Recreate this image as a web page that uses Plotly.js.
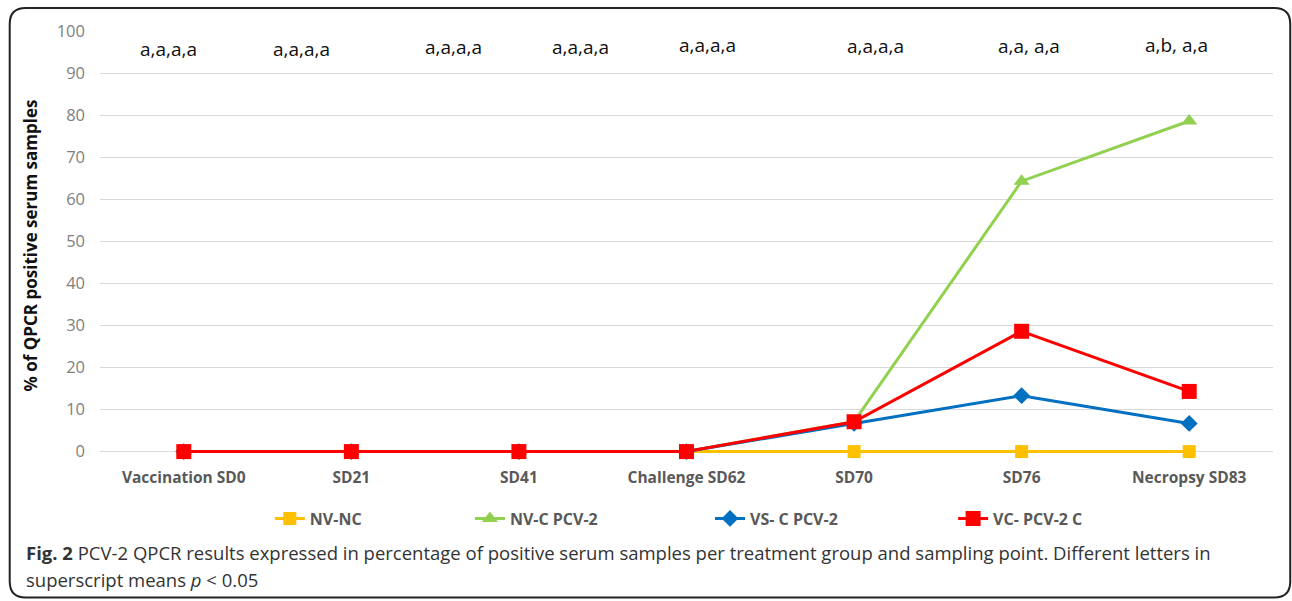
<!DOCTYPE html>
<html>
<head>
<meta charset="utf-8">
<script src="https://cdn.plot.ly/plotly-3.0.1.min.js"></script>
<style>
  html, body { margin: 0; padding: 0; background: #fff; }
  #chart { width: 1292px; height: 601px; }
</style>
</head>
<body>
<div id="chart"></div>
<script>
// Sampling points (study days)
const categories = ['Vaccination SD0', 'SD21', 'SD41', 'Challenge SD62', 'SD70', 'SD76', 'Necropsy SD83'];

// % of QPCR positive serum samples per treatment group
const nvNc    = [0, 0, 0, 0, 0, 0, 0];
const nvCPcv2 = [0, 0, 0, 0, 7.1, 64.3, 78.6];
const vsCPcv2 = [0, 0, 0, 0, 6.7, 13.3, 6.7];
const vcPcv2C = [0, 0, 0, 0, 7.1, 28.6, 14.3];

const seriesNames = ['NV-NC', 'NV-C PCV-2', 'VS- C PCV-2', 'VC- PCV-2 C'];

// Statistical letters shown above the plot
const letterLabels = ['a,a,a,a', 'a,a,a,a', 'a,a,a,a', 'a,a,a,a', 'a,a,a,a', 'a,a,a,a', 'a,a, a,a', 'a,b, a,a'];

const yTicks = [0, 10, 20, 30, 40, 50, 60, 70, 80, 90, 100];

// ---- layout geometry (pixels) ----
// y range starts slightly below 0 so the zero-level lines are not clipped
const Y_MIN = -2, Y_MAX = 100;
const W = 1292, H = 601;
const ZERO_PX = 452, TOP_PX = 31;
const PX_PER_UNIT = (ZERO_PX - TOP_PX) / Y_MAX;
const M = { l: 100.25, r: 19.25, t: TOP_PX, b: H - ZERO_PX + Y_MIN * PX_PER_UNIT };
const PW = W - M.l - M.r, PH = H - M.t - M.b;
const px = x => (x - M.l) / PW;            // pixel x -> paper x
const py = y => (H - M.b - y) / PH;        // pixel y -> paper y

const FONT = '"Open Sans", "DejaVu Sans", sans-serif';

function trace(name, y, color, symbol, size, legend) {
  return {
    type: 'scatter', mode: 'lines+markers', name: name,
    x: categories, y: y,
    line: { color: color, width: 3 },
    marker: { color: color, symbol: symbol, size: size },
    legend: legend, cliponaxis: false
  };
}

const data = [
  trace(seriesNames[0], nvNc,    '#FFC000', 'square',       13, 'legend'),
  trace(seriesNames[1], nvCPcv2, '#92D050', 'triangle-up',  14, 'legend2'),
  trace(seriesNames[2], vsCPcv2, '#0070C0', 'diamond',      13, 'legend3'),
  trace(seriesNames[3], vcPcv2C, '#FF0000', 'square',       15, 'legend4')
];

// letter annotations (pixel centres across the top band)
const letterX = [169, 302, 454, 581, 707, 875, 1029, 1176];
const letterY = [49, 49, 47, 47, 45, 46, 46, 45];
const annotations = letterLabels.map((t, i) => ({
  xref: 'paper', yref: 'paper', x: px(letterX[i]), y: py(letterY[i]),
  xanchor: 'center', yanchor: 'middle', showarrow: false,
  text: t, font: { family: FONT, size: 19, color: '#111' }
}));

// figure caption
const captionFont = { family: FONT, size: 18.5, color: '#333' };
annotations.push({
  xref: 'paper', yref: 'paper', x: px(24), y: py(553),
  xanchor: 'left', yanchor: 'middle', showarrow: false, align: 'left',
  text: '<b>Fig. 2</b> PCV-2 QPCR results expressed in percentage of positive serum samples per treatment group and sampling point. Different letters in',
  font: captionFont
});
annotations.push({
  xref: 'paper', yref: 'paper', x: px(24), y: py(580),
  xanchor: 'left', yanchor: 'middle', showarrow: false, align: 'left',
  text: 'superscript means <i>p</i> &lt; 0.05',
  font: captionFont
});

// rounded frame around the figure
function roundedRect(x0, y0, x1, y1, r) {
  const X = v => px(v), Y = v => py(v);
  return `M ${X(x0 + r)} ${Y(y0)} L ${X(x1 - r)} ${Y(y0)} Q ${X(x1)} ${Y(y0)} ${X(x1)} ${Y(y0 + r)} ` +
         `L ${X(x1)} ${Y(y1 - r)} Q ${X(x1)} ${Y(y1)} ${X(x1 - r)} ${Y(y1)} ` +
         `L ${X(x0 + r)} ${Y(y1)} Q ${X(x0)} ${Y(y1)} ${X(x0)} ${Y(y1 - r)} ` +
         `L ${X(x0)} ${Y(y0 + r)} Q ${X(x0)} ${Y(y0)} ${X(x0 + r)} ${Y(y0)} Z`;
}

const legendBase = {
  orientation: 'h', xanchor: 'left', yanchor: 'middle',
  bgcolor: 'rgba(0,0,0,0)', borderwidth: 0,
  font: { family: FONT, size: 16, color: '#595959', weight: 'bold' }
};
const legendAt = x => Object.assign({}, legendBase, { x: px(x), y: py(519) });

const layout = {
  width: W, height: H,
  margin: M,
  paper_bgcolor: '#fff', plot_bgcolor: '#fff',
  showlegend: true,
  legend: legendAt(270),
  legend2: legendAt(470),
  legend3: legendAt(710),
  legend4: legendAt(953),
  xaxis: {
    type: 'category', range: [-0.5, 6.5], fixedrange: true,
    showgrid: false, zeroline: false, showline: false, ticks: '',
    ticklabelstandoff: 6,
    tickfont: { family: FONT, size: 15.5, color: '#595959', weight: 'bold' }
  },
  yaxis: {
    range: [Y_MIN, Y_MAX], tickvals: yTicks, fixedrange: true,
    showgrid: true, gridcolor: '#d9d9d9', gridwidth: 1,
    zeroline: false, showline: false, ticks: '',
    ticklabelstandoff: 14,
    tickfont: { family: FONT, size: 16.5, color: '#7f7f7f' },
    title: {
      text: '% of QPCR positive serum samples', standoff: 14,
      font: { family: FONT, size: 17, color: '#111', weight: 'bold' }
    }
  },
  annotations: annotations,
  shapes: [{
    type: 'path', xref: 'paper', yref: 'paper', layer: 'above',
    path: roundedRect(10, 8, 1290, 598, 16),
    line: { color: '#222', width: 2 }
  }]
};

Plotly.newPlot('chart', data, layout, { displayModeBar: false, staticPlot: true });
</script>
</body>
</html>
